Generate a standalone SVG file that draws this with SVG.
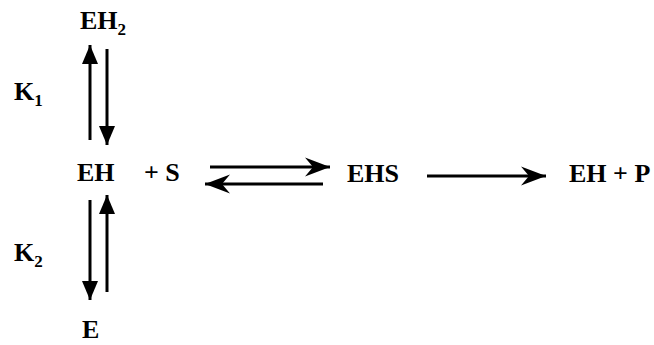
<svg xmlns="http://www.w3.org/2000/svg" width="654" height="345" viewBox="0 0 654 345">
<defs>
<style>
.t{font-family:"Liberation Serif","Times New Roman",serif;font-weight:bold;font-size:26px;fill:#000}
.s{font-size:17px}
.ln{stroke:#000;stroke-width:3;fill:none}
.v{marker-end:url(#tri)}
.h{marker-end:url(#barb)}
</style>
<marker id="tri" markerUnits="userSpaceOnUse" viewBox="-22 -10 24 20" refX="0" refY="0" markerWidth="24" markerHeight="20" orient="auto">
<path d="M0,0 L-19,-8 L-19,8 Z" fill="#000"/>
</marker>
<marker id="barb" markerUnits="userSpaceOnUse" viewBox="-28 -11 30 22" refX="0" refY="0" markerWidth="30" markerHeight="22" orient="auto">
<path d="M0,0 L-25,-9.5 L-17,0 L-25,9.5 Z" fill="#000"/>
</marker>
</defs>
<g id="n-eh2"><text class="t" x="80" y="29">EH<tspan class="s" dy="6">2</tspan></text></g>
<g id="n-k1"><text class="t" x="14" y="100">K<tspan class="s" dy="6">1</tspan></text></g>
<g id="n-eh"><text class="t" x="77" y="181">EH</text></g>
<g id="n-s"><text class="t" x="144" y="181">+ S</text></g>
<g id="n-k2"><text class="t" x="14" y="261">K<tspan class="s" dy="6">2</tspan></text></g>
<g id="n-e"><text class="t" x="82" y="338">E</text></g>
<g id="n-ehs"><text class="t" x="347" y="182">EHS</text></g>
<g id="n-ehp"><text class="t" x="569" y="182">EH + P</text></g>
<g id="connectors">
<line class="ln v" x1="90" y1="140" x2="90" y2="45"/>
<line class="ln v" x1="107" y1="49" x2="107" y2="145"/>
<line class="ln v" x1="90" y1="200" x2="90" y2="300"/>
<line class="ln v" x1="107" y1="292" x2="107" y2="195"/>
<line class="ln h" x1="210" y1="167" x2="330" y2="167"/>
<line class="ln h" x1="323" y1="184" x2="205" y2="184"/>
<line class="ln h" x1="427" y1="176" x2="546" y2="176"/>
</g>
</svg>
